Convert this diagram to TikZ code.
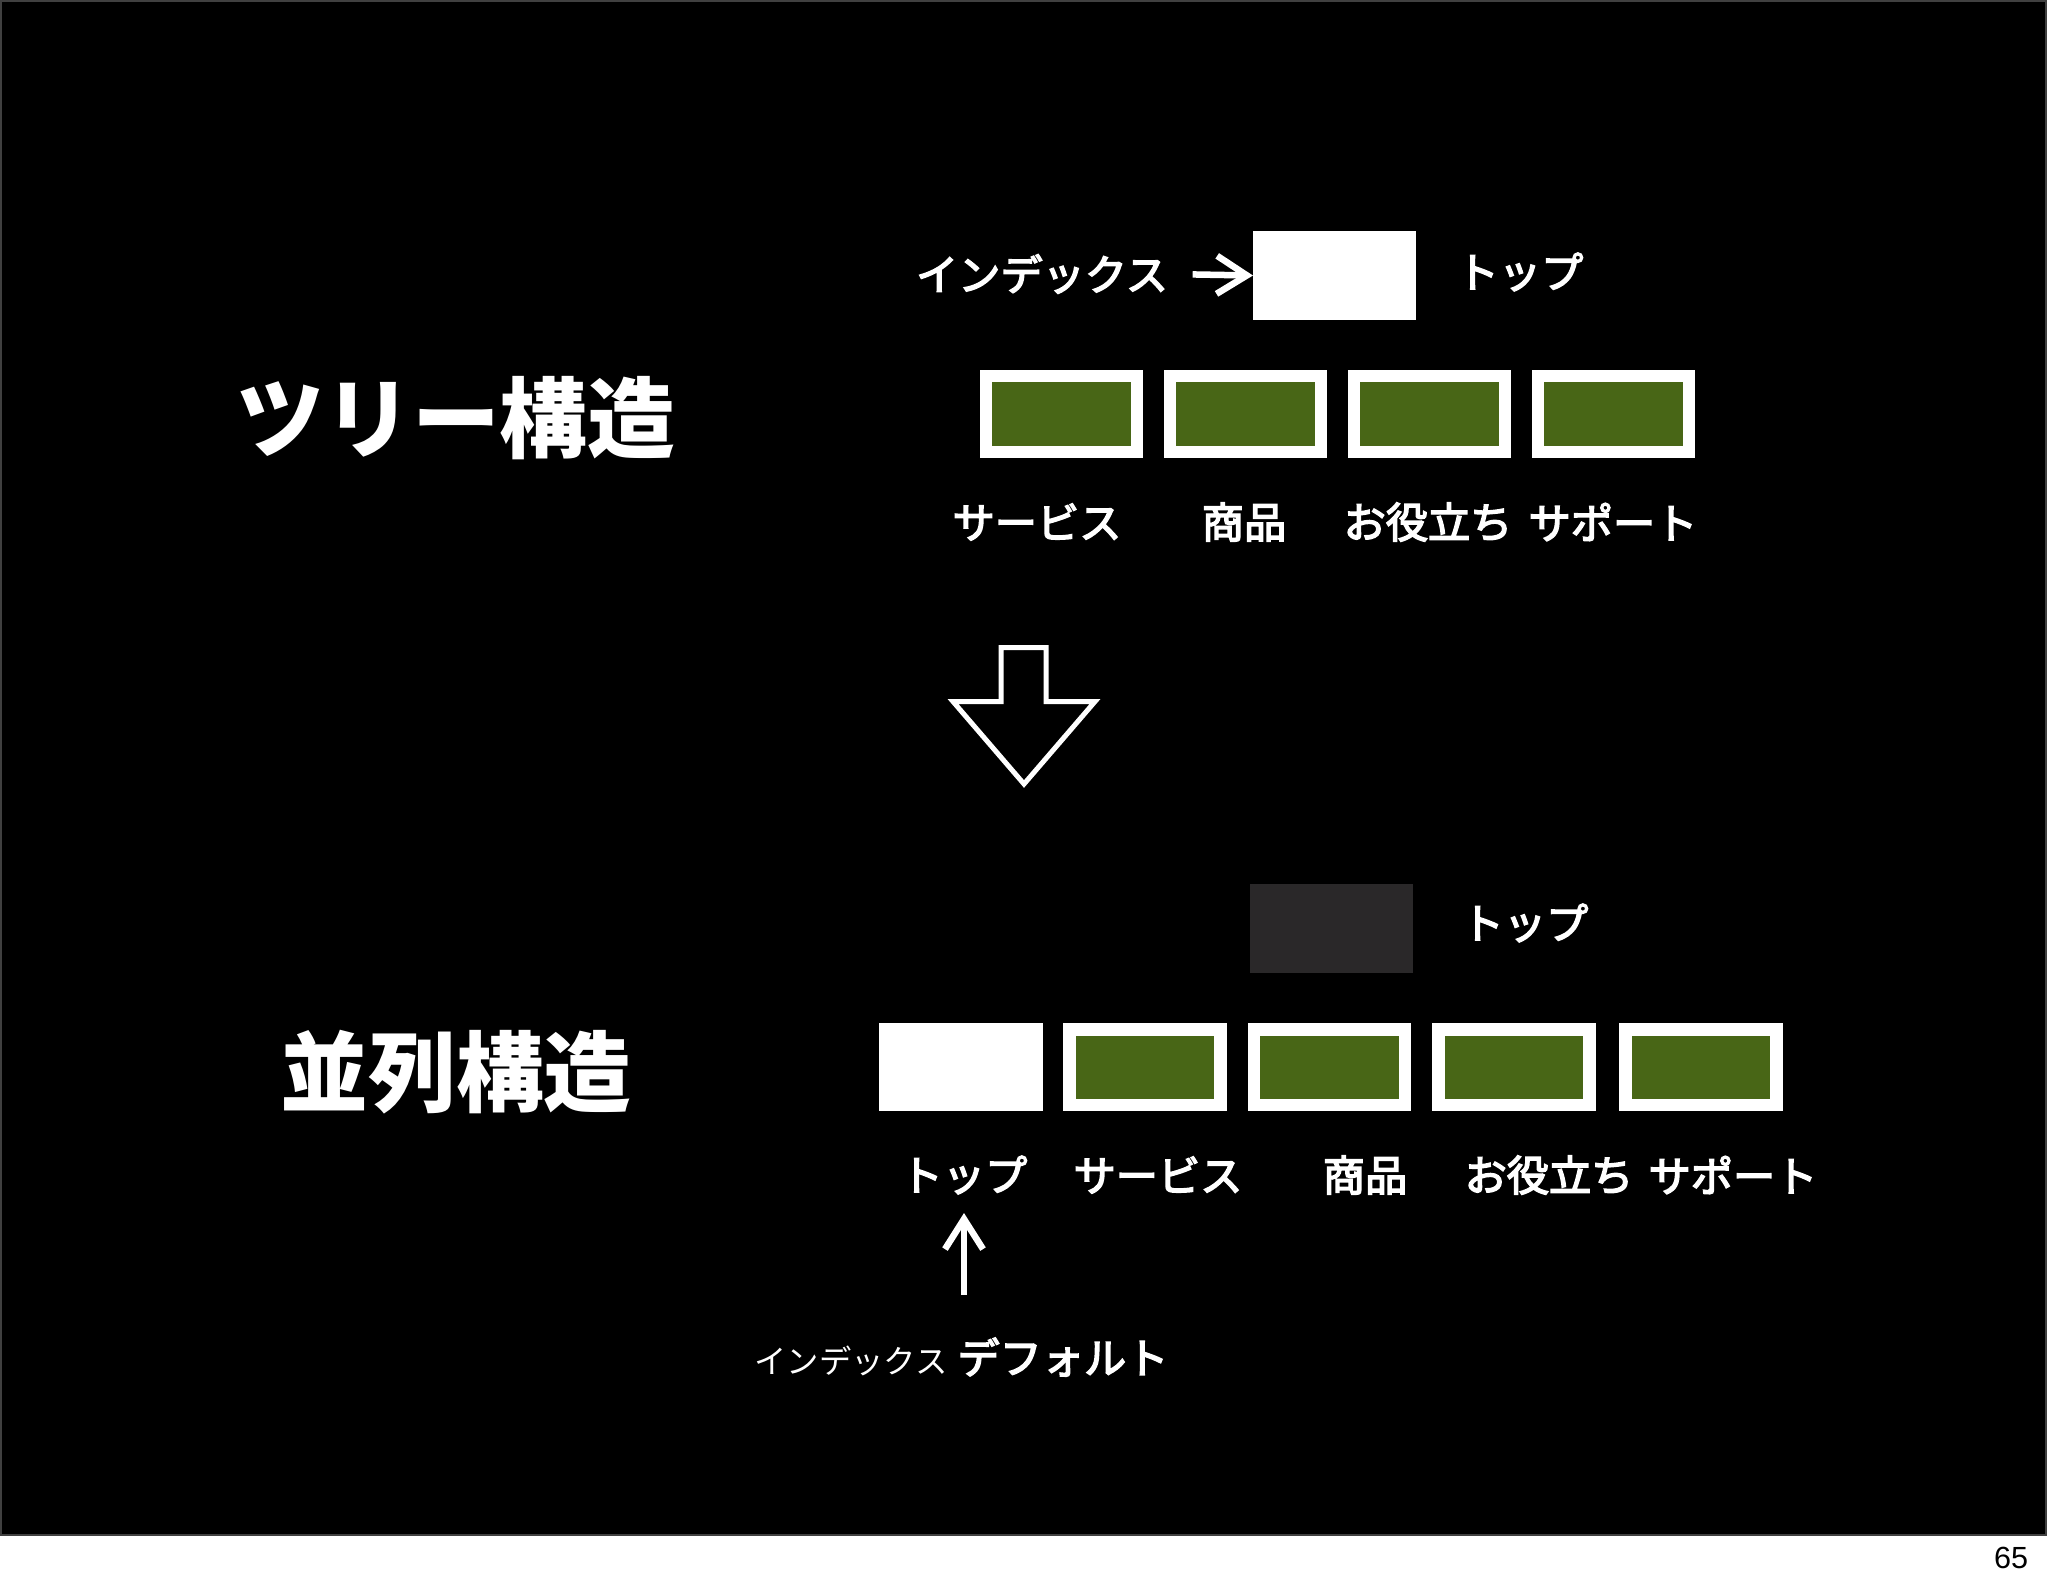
\documentclass[tikz,border=0pt]{standalone}
\usepackage{fontspec}
\setmainfont{Noto Sans CJK JP}
\newfontfamily\jpmid[FakeBold=3.5]{Noto Sans CJK JP}
\newfontfamily\numfont{Liberation Sans}
\usetikzlibrary{arrows.meta}
\definecolor{leaf}{RGB}{72,102,22}
\definecolor{shade}{RGB}{42,40,41}
\tikzset{
  page/.style={x=0.01cm, y=-0.01cm},
  panel/.style={minimum width=1.63cm, minimum height=0.88cm, inner sep=0pt, outer sep=0pt},
  leafbox/.style={panel, fill=leaf, draw=white, line width=0.125cm, minimum width=1.505cm, minimum height=0.755cm},
  whitebox/.style={panel, fill=white},
  shadebox/.style={panel, fill=shade},
  lbl/.style={text=white, inner sep=0pt, font=\fontsize{12}{14}\selectfont\jpmid},
  title/.style={text=white, inner sep=0pt, font=\fontsize{25}{30}\selectfont\bfseries},
  arr/.style={white, line width=0.065cm, -{Straight Barb[length=0.3cm, width=0.38cm]}},
}
\begin{document}
\begin{tikzpicture}[page]
\useasboundingbox (0,0) rectangle (2048,1587);
\fill[white] (0,0) rectangle (2048,1587);
\filldraw[fill=black, draw=black!75, line width=0.02cm] (1,1) rectangle (2046,1535);

% tree structure
\node[title] (tree) at (456,418) {ツリー構造};
\node[lbl] (idx1) at (1042,274) {インデックス};
\node[whitebox] (top1) at (1334.5,275.5) {};
\node[lbl] (toplbl1) at (1520,272) {トップ};
\draw[arr, shorten <=0.24cm] (idx1.east) -- (top1.west);

\foreach \x [count=\i] in {1061.5,1245.5,1429.5,1613.5}
  \node[leafbox] (tb\i) at (\x,414) {};
\foreach \x/\t [count=\i] in {1037/サービス, 1244/商品, 1428/お役立ち, 1613/サポート}
  \node[lbl] (tl\i) at (\x,522) {\t};

% down arrow
\draw[white, line width=0.05cm, line join=miter]
  (1001,647.5) -- (1046,647.5) -- (1046,701.5) -- (1095,701.5)
  -- (1024,784) -- (953,701.5) -- (1001,701.5) -- cycle;

% parallel structure
\node[title] (para) at (456,1072) {並列構造};
\node[shadebox] (top2) at (1331.5,928.5) {};
\node[lbl] (toplbl2) at (1525,923) {トップ};

\node[whitebox] (pb1) at (961,1067) {};
\foreach \x [count=\i from 2] in {1145,1329.5,1514,1701}
  \node[leafbox] (pb\i) at (\x,1067) {};
\foreach \x/\t [count=\i] in {964/トップ, 1158/サービス, 1365/商品, 1549/お役立ち, 1733/サポート}
  \node[lbl] (pl\i) at (\x,1175) {\t};

\coordinate (upfoot) at (964,1295);
\coordinate (uptip) at (964,1213);
\draw[arr] (upfoot) -- (uptip);
\node[text=white, inner sep=0pt, font=\fontsize{9.2}{11}\selectfont] (idx2) at (851,1361) {インデックス};
\node[lbl] (dflt) at (1063,1357) {デフォルト};

\node[text=black, inner sep=0pt, font=\fontsize{8.7}{10}\selectfont\numfont] (pg) at (2011,1558) {65};
\end{tikzpicture}
\end{document}
